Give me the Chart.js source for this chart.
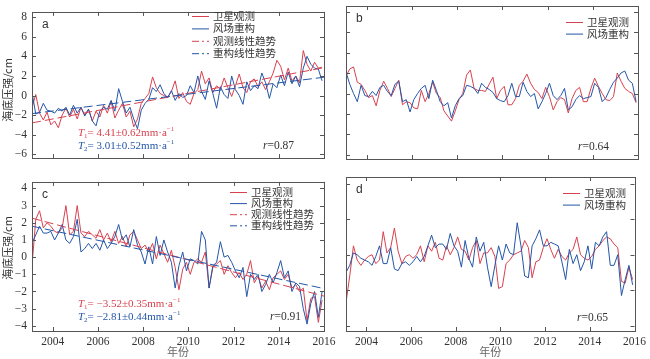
<!DOCTYPE html>
<html>
<head>
<meta charset="utf-8">
<script src="https://cdn.jsdelivr.net/npm/chart.js@4/dist/chart.umd.min.js"></script>
<style>
html, body { margin: 0; padding: 0; background: #fff; }
#wrap { position: relative; width: 650px; height: 359px; overflow: hidden; }
canvas { position: absolute; }
</style>
</head>
<body>
<div id="wrap">
    <canvas id="panelA" width="340" height="170" style="left:0;top:0"></canvas>
    <canvas id="panelB" width="320" height="170" style="left:330px;top:0"></canvas>
    <canvas id="panelC" width="340" height="189" style="left:0;top:170px"></canvas>
    <canvas id="panelD" width="320" height="189" style="left:330px;top:170px"></canvas>
</div>
<script>
// ---------------- DATA ----------------
// sampling every two months, Feb 2003 .. Dec 2015
const startYear = 2003.083;
const times = [];
for (let k = 0; k < 78; k++) times.push(startYear + k / 6);

const yearTicks = [2004, 2006, 2008, 2010, 2012, 2014, 2016];
const ticksA = [-6, -4, -2, 0, 2, 4, 6, 8];
const ticksC = [-4, -3, -2, -1, 0, 1, 2, 3, 4];
const ticksD = [-4, -2, 0, 2, 4];

// panel a : raw series
const aObs = [-1.2, 0.1, -1.8, -2.5, -1.7, -3.0, -2.6, -3.3, -2.0, -1.3, -2.2, -1.4, -2.4, -1.2, -2.0, -1.4,
    -2.6, -1.6, -2.2, -1.0, -1.8, -0.6, -2.3, -1.5, -0.8, -2.2, -1.6, -3.2, -2.4, -0.8, -0.3, 0.2,
    1.9, 0.8, 0.2, 0.0, -0.2, 0.4, 1.5, -0.3, 0.3, -0.6, -0.9, 0.2, 0.6, 2.5, 1.2, 1.8,
    0.3, 1.0, 0.6, 1.8, 0.8, -0.1, 1.0, 2.2, 0.8, 0.3, 1.4, 1.7, 0.9, 1.4, 0.6, 1.4,
    2.3, 3.6, 3.0, 1.6, 2.8, 1.5, 2.0, 1.3, 4.6, 3.2, 2.5, 3.4, 2.8, 2.9];
const aRec = [0.3, -1.9, -1.7, -0.8, -1.5, -1.6, -1.8, -1.3, -1.6, -1.2, -2.0, -1.0, -1.8, -1.2, -2.1, -1.4,
    -2.6, -3.1, -1.6, -1.2, -1.4, -0.5, -1.6, 0.7, -0.6, -1.8, -1.2, -2.4, -3.4, -1.5, -0.8, -0.4,
    0.8, 0.4, 1.1, 0.2, -0.2, 0.5, -0.5, 0.2, -0.2, 0.0, 1.0, 0.3, 2.0, 0.4, -0.4, 1.5,
    0.2, -1.3, 0.9, 0.1, -0.3, 2.0, 0.6, 0.0, -0.9, 1.4, 0.5, 1.0, 0.7, 2.3, 1.3, -0.3,
    1.2, 0.8, 2.1, 1.0, 2.4, 1.2, 2.0, 0.9, 2.8, 4.0, 3.2, 2.8, 2.7, 1.5];
const trendX = [2003.083, 2016];
const aObsTrend = [-2.8, 2.85];
const aRecTrend = [-1.85, 1.87];

// panel b : detrended
const bObs = [1.7, 2.4, 2.6, 1.1, 0.9, 0.3, -0.4, -0.2, -1.2, 0.3, 1.2, 0.5, -0.3, 0.5, 1.3, -1.1,
    -0.8, -0.9, -1.4, -1.5, 0.3, -0.8, 0.0, 1.1, 0.0, -0.4, -1.7, -2.2, -2.7, -1.7, -0.6, 0.0,
    1.8, 2.3, 0.5, 0.3, 0.3, 0.2, 0.9, 1.6, -0.5, 0.3, 0.7, -1.1, -1.1, -0.5, 0.8, 1.2,
    1.9, 1.0, 0.4, 0.1, -0.5, 0.6, -0.3, -1.6, -0.8, -0.4, -0.6, -1.9, -0.5, 0.3, 0.6, -0.8,
    -0.8, 0.5, 1.5, 0.7, 0.0, -0.6, -0.7, -0.3, 2.0, 1.2, 0.5, 0.2, 0.0, -0.9];
const bRec = [2.1, 0.9, 0.0, -0.8, 0.8, -0.2, -0.3, 0.2, -0.2, 0.6, 0.8, 0.2, -0.2, 0.9, 1.2, -0.8,
    -0.6, -1.8, -0.6, 0.0, 0.5, 0.8, -0.5, 1.3, 0.3, -0.8, -1.2, -0.9, -2.4, -1.2, -0.5, -0.2,
    0.8, 0.7, 0.5, 0.0, 1.0, 0.6, 0.4, 0.1, -0.5, -0.7, -0.8, -0.2, 1.0, -0.3, -0.3, 1.1,
    0.2, -0.3, 0.0, -1.5, -0.8, 0.0, 1.0, -0.2, -0.6, -0.2, 0.5, -1.6, -1.3, -0.6, -0.2, -0.5,
    -0.4, -0.3, 1.0, 0.6, -0.8, -0.4, 0.4, 1.1, 1.5, 2.0, 2.2, 1.3, 1.0, -0.8];

// panel c : raw series
const cObs = [-0.5, 2.2, 2.7, 1.7, 2.0, 1.8, 1.5, 1.4, 1.7, 3.0, 1.3, 1.5, 3.0, 1.4, 1.2, 1.5,
    1.3, 1.1, 1.6, 1.0, 1.4, 0.9, 1.5, 0.8, 1.2, 0.6, 1.3, 1.5, 1.0, 0.5, 0.7, 0.3,
    0.8, -0.1, 0.7, 0.2, -0.3, 0.4, -0.6, -1.9, -0.7, -0.3, -1.0, -0.3, -0.1, -0.3, 0.3, -1.8,
    -0.6, -0.4, -0.2, -1.0, -0.5, -0.9, -1.2, -0.9, -1.3, -1.0, -0.2, -1.5, -1.1, -1.8, -1.4, -1.9,
    -1.2, -1.0, -0.8, -1.3, -1.0, -1.8, -1.6, -2.0, -1.8, -3.7, -2.4, -2.3, -3.8, -2.5];
const cRec = [0.8, 1.3, 1.8, 1.4, 1.4, 1.5, 1.0, 1.4, 1.9, 1.0, 0.8, 1.2, 2.2, 0.3, 0.5, 0.8,
    0.5, 0.8, 0.4, 1.0, 0.5, 0.8, 1.2, 1.9, 1.0, 1.3, 0.6, 1.6, 0.7, 0.3, -0.4, 0.6,
    -0.4, 1.2, 0.1, 1.0, 0.3, -0.3, -1.8, -0.5, 0.3, -0.8, -0.1, -0.2, -0.4, 1.5, 1.0, -1.8,
    -0.5, -0.3, 0.9, 0.0, 0.1, -0.3, -0.8, -1.2, -0.6, -2.3, -1.0, -1.3, -1.0, -2.0, -1.6, -1.0,
    -1.5, -0.9, -0.2, -1.2, -0.8, -2.0, -1.5, -1.7, -3.0, -3.9, -2.7, -2.0, -3.5, -2.0];
const cObsTrend = [2.27, -2.27];
const cRecTrend = [1.8, -1.83];

// panel d : detrended
const dObs = [-2.7, -1.2, 0.5, -0.3, -0.6, -0.3, -0.1, 0.0, -0.5, -0.3, 1.3, 0.1, 0.4, 1.5, 0.2, -0.5,
    -0.1, 0.0, -0.2, 0.0, 0.5, -0.4, 0.5, 0.2, 0.7, -0.2, -0.3, 0.5, 0.0, 0.4, 1.0, 0.3,
    0.2, -0.3, 0.4, 0.8, -0.5, 0.1, 0.1, 0.4, -0.1, -1.9, -1.8, -0.5, -0.3, 0.0, 0.1, 0.2,
    0.8, 0.4, -1.3, -0.4, -0.3, 0.4, 0.9, 0.3, -0.2, 0.3, -0.1, -0.3, 0.1, 0.3, 1.0, 0.0,
    -0.2, -0.3, -0.1, 0.3, 0.5, 0.8, 1.0, 0.9, 0.6, 0.4, -1.5, -1.6, -0.7, -1.4];
const dRec = [-1.0, -0.6, 0.1, 0.0, -0.2, -0.3, -0.4, -0.6, -0.1, 0.5, -0.5, -0.5, 0.4, -0.8, -0.9, -0.5,
    -0.4, -0.6, -0.4, -0.1, -0.4, -0.1, 0.5, 1.1, 0.4, 0.6, 0.6, 0.3, 1.2, 0.5, 0.2, -0.7,
    0.8, -0.2, -0.7, 1.0, 0.2, 0.7, -0.7, -1.8, -0.6, 0.5, -0.3, 0.6, 0.1, 0.0, 1.8, 0.5,
    -1.2, -1.3, 0.5, 0.9, 1.4, 0.5, 0.5, 0.7, 0.6, 0.5, -0.4, -1.4, 0.3, -0.5, 0.0, -0.9,
    -0.4, 0.5, -0.8, 0.7, 0.5, 1.0, 1.3, -0.6, -0.6, 0.0, -2.3, -1.4, -0.6, -1.7];

// ---------------- STYLE ----------------
const RED = "#d8414f";
const BLUE = "#2356a8";
const INK = "#333333";
const SERIF = "'Liberation Serif', 'DejaVu Serif', serif";
const CJK = "'Noto Sans CJK SC', sans-serif";

function pts(xs, ys) {
    return ys.map((v, i) => ({ x: xs[i], y: v }));
}

function minusSign(v) {
    return String(v).replace("-", "\u2212");
}

// draw a run of text pieces (for subscripts / superscripts)
function drawRuns(ctx, x, y, runs, color) {
    ctx.fillStyle = color;
    ctx.textBaseline = "middle";
    ctx.textAlign = "left";
    runs.forEach(r => {
        ctx.font = r.f;
        ctx.fillText(r.s, x, y + (r.dy || 0));
        x += ctx.measureText(r.s).width;
    });
}

function trendRuns(sub, text) {
    return [
        { s: "T", f: "italic 11px " + SERIF },
        { s: sub, f: "7px " + SERIF, dy: 3 },
        { s: "= " + text + "mm\u00b7a", f: "11px " + SERIF },
        { s: "\u22121", f: "7px " + SERIF, dy: -4 }
    ];
}

// ---------------- FRAME PLUGIN ----------------
const framePlugin = {
    id: "frame",
    afterDraw(chart, args, o) {
        const { ctx, chartArea: a } = chart;
        const x = chart.scales.x;
        const y = chart.scales.y;

        ctx.save();
        ctx.strokeStyle = "#555";
        ctx.lineWidth = 1;
        ctx.strokeRect(Math.round(a.left) + 0.5, Math.round(a.top) + 0.5,
            Math.round(a.right - a.left), Math.round(a.bottom - a.top));

        ctx.beginPath();
        o.xt.forEach(v => {
            const p = Math.round(x.getPixelForValue(v)) + 0.5;
            ctx.moveTo(p, a.bottom); ctx.lineTo(p, a.bottom - 4);
            ctx.moveTo(p, a.top); ctx.lineTo(p, a.top + 4);
        });
        o.yt.forEach(v => {
            const p = Math.round(y.getPixelForValue(v)) + 0.5;
            ctx.moveTo(a.left, p); ctx.lineTo(a.left + 4, p);
            ctx.moveTo(a.right, p); ctx.lineTo(a.right - 4, p);
        });
        ctx.stroke();

        // panel letter
        ctx.fillStyle = INK;
        ctx.font = "12px 'Liberation Sans', sans-serif";
        ctx.textBaseline = "middle";
        ctx.textAlign = "left";
        ctx.fillText(o.letter, a.left + 10, a.top + 13);

        // legend
        o.legend.items.forEach((it, i) => {
            const ly = o.legend.y + i * o.legend.dy;
            ctx.strokeStyle = it.color;
            ctx.lineWidth = 1;
            ctx.setLineDash(it.dash || []);
            ctx.beginPath();
            ctx.moveTo(o.legend.x, ly + 0.5);
            ctx.lineTo(o.legend.x + 17, ly + 0.5);
            ctx.stroke();
            ctx.setLineDash([]);
            ctx.fillStyle = INK;
            ctx.font = "10.5px " + CJK;
            ctx.fillText(it.label, o.legend.x + 21, ly);
        });

        // r value
        drawRuns(ctx, o.r.x, o.r.y, [
            { s: "r", f: "italic 11.5px " + SERIF },
            { s: "=" + o.r.v, f: "11.5px " + SERIF }
        ], INK);

        // trend rates
        if (o.rates) {
            drawRuns(ctx, o.rates.x, o.rates.y, trendRuns("1", o.rates.t1), RED);
            drawRuns(ctx, o.rates.x, o.rates.y + 13, trendRuns("2", o.rates.t2), BLUE);
        }

        // axis titles
        if (o.yTitle) {
            ctx.save();
            ctx.translate(8, o.yTitle);
            ctx.rotate(-Math.PI / 2);
            ctx.fillStyle = INK;
            ctx.textAlign = "center";
            ctx.font = "11px " + CJK;
            ctx.fillText("海底压强/cm", 0, 0);
            ctx.restore();
        }
        if (o.xTitle) {
            ctx.fillStyle = "#666";
            ctx.textAlign = "center";
            ctx.font = "11px " + CJK;
            ctx.fillText("年份", (a.left + a.right) / 2, o.xTitle);
        }
        ctx.restore();
    }
};

// ---------------- BUILD ----------------
function makePanel(id, p) {
    const datasets = [];
    if (p.recTrend) {
        datasets.push({ data: pts(trendX, p.recTrend), borderColor: BLUE, borderDash: [9, 4] });
        datasets.push({ data: pts(trendX, p.obsTrend), borderColor: RED, borderDash: [9, 4] });
    }
    datasets.push({ data: pts(times, p.rec), borderColor: BLUE });
    datasets.push({ data: pts(times, p.obs), borderColor: RED });
    datasets.forEach(d => {
        d.borderWidth = 1;
        d.pointRadius = 0;
        d.tension = 0;
        d.fill = false;
    });

    return new Chart(document.getElementById(id), {
        type: "line",
        data: { datasets },
        plugins: [framePlugin],
        options: {
            responsive: false,
            animation: false,
            events: [],
            layout: { padding: p.pad },
            plugins: {
                legend: { display: false },
                tooltip: { enabled: false },
                frame: p.frame
            },
            scales: {
                x: {
                    type: "linear",
                    min: startYear,
                    max: 2016,
                    afterBuildTicks: s => { s.ticks = yearTicks.map(v => ({ value: v })); },
                    afterFit: s => { s.height = p.xh; },
                    grid: { display: false, drawTicks: false },
                    border: { display: false },
                    ticks: {
                        display: p.xLabels,
                        color: INK,
                        padding: 4,
                        maxRotation: 0,
                        autoSkip: false,
                        font: { family: SERIF, size: 11.5 },
                        callback: v => String(v)
                    }
                },
                y: {
                    min: p.ymin,
                    max: p.ymax,
                    afterBuildTicks: s => { s.ticks = p.yt.map(v => ({ value: v })); },
                    afterFit: s => { s.width = p.yw; },
                    grid: { display: false, drawTicks: false },
                    border: { display: false },
                    ticks: {
                        display: p.yLabels,
                        color: INK,
                        padding: 5,
                        font: { family: SERIF, size: 11.5 },
                        callback: v => minusSign(v)
                    }
                }
            }
        }
    });
}

const legend4 = [
    { label: "卫星观测", color: RED },
    { label: "风场重构", color: BLUE },
    { label: "观测线性趋势", color: RED, dash: [7, 3, 2, 3] },
    { label: "重构线性趋势", color: BLUE, dash: [7, 3, 2, 3] }
];
const legend2 = legend4.slice(0, 2);

makePanel("panelA", {
    obs: aObs, rec: aRec, obsTrend: aObsTrend, recTrend: aRecTrend,
    ymin: -6.4, ymax: 8.55, yt: ticksA, yLabels: true, xLabels: false,
    yw: 32, xh: 11, pad: { top: 6, right: 16, left: 0, bottom: 0 },
    frame: {
        xt: yearTicks, yt: ticksA, letter: "a",
        legend: { x: 192, y: 16, dy: 12.4, items: legend4 },
        r: { x: 263, y: 146, v: "0.87" },
        rates: { x: 78, y: 133, t1: "4.41\u00b10.62", t2: "3.01\u00b10.52" },
        yTitle: 90
    }
});

makePanel("panelB", {
    obs: bObs, rec: bRec,
    ymin: -6.4, ymax: 8.55, yt: ticksA, yLabels: false, xLabels: false,
    yw: 16, xh: 11, pad: { top: 6, right: 12, left: 0, bottom: 0 },
    frame: {
        xt: yearTicks, yt: ticksA, letter: "b",
        legend: { x: 236, y: 22, dy: 11.6, items: legend2 },
        r: { x: 248, y: 147, v: "0.64" }
    }
});

makePanel("panelC", {
    obs: cObs, rec: cRec, obsTrend: cObsTrend, recTrend: cRecTrend,
    ymin: -4.3, ymax: 4.38, yt: ticksC, yLabels: true, xLabels: true,
    yw: 32, xh: 28, pad: { top: 7, right: 16, left: 0, bottom: 0 },
    frame: {
        xt: yearTicks, yt: ticksC, letter: "c",
        legend: { x: 230, y: 22, dy: 11.1, items: legend4 },
        r: { x: 270, y: 147, v: "0.91" },
        rates: { x: 78, y: 134, t1: "\u22123.52\u00b10.35", t2: "\u22122.81\u00b10.44" },
        yTitle: 78,
        xTitle: 182
    }
});

makePanel("panelD", {
    obs: dObs, rec: dRec,
    ymin: -4.3, ymax: 4.38, yt: ticksD, yLabels: false, xLabels: true,
    yw: 16, xh: 28, pad: { top: 7, right: 12, left: 0, bottom: 0 },
    frame: {
        xt: yearTicks, yt: ticksD, letter: "d",
        legend: { x: 233, y: 23, dy: 11.6, items: legend2 },
        r: { x: 247, y: 148, v: "0.65" },
        xTitle: 182
    }
});
</script>
</body>
</html>
